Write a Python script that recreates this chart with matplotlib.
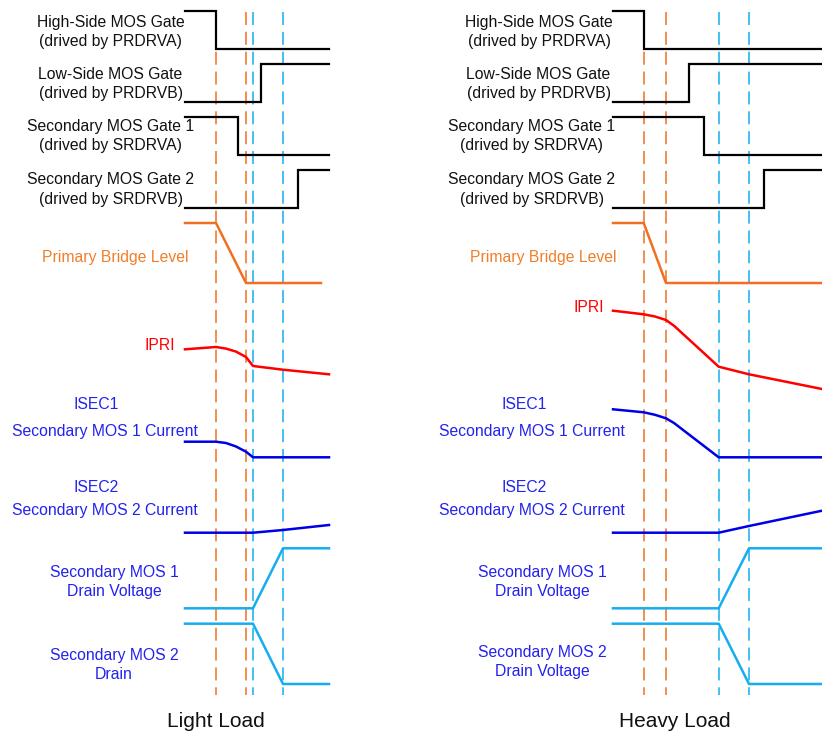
import matplotlib.pyplot as plt

plt.rcParams['font.family'] = ['Liberation Sans', 'DejaVu Sans']

ORANGE = '#f06f20'
ORANGE_TXT = '#f27d28'
RED = '#ff0000'
BLUE = '#0000e6'
BLUE_TXT = '#2222ee'
CYAN = '#14aeee'

# time axis runs left->right across both panels, levels run top->bottom
panels = ['Light Load', 'Heavy Load']
t_start = [185, 613]
t_end = [329, 822]

# switching instants: two dead-time markers (orange) and two secondary markers (blue)
mark_orange = [[216, 246], [643.7, 666]]
mark_blue = [[253, 283], [718.7, 749]]

# gate drive signals
gate_names = ['High-Side MOS Gate\n(drived by PRDRVA)',
              'Low-Side MOS Gate\n(drived by PRDRVB)',
              'Secondary MOS Gate 1\n(drived by SRDRVA)',
              'Secondary MOS Gate 2\n(drived by SRDRVB)']
gate_high = [11, 64, 117, 170]
gate_low = [49, 102, 155, 208]
gate_starts_high = [True, False, True, False]
gate_edge = [[216, 261, 238, 298], [643.7, 688.7, 703.7, 764.3]]

# analog waveforms (time, level)
bridge_t = [[185, 216, 246, 321], [613, 643.7, 666, 822]]
bridge_v = [[223, 223, 283, 283], [223, 223, 283, 283]]

ipri_t = [[185, 216, 226, 236, 246, 253, 283, 329],
          [613, 643.7, 655, 666, 674.3, 718.7, 749, 822]]
ipri_v = [[349.3, 347, 348.6, 351.6, 357, 366, 369.7, 374.3],
          [310.7, 314.3, 316.5, 320, 326, 366.7, 374.3, 389]]

isec1_t = [[185, 216, 226, 236, 246, 253, 329],
           [613, 643.7, 655, 666, 674, 718.7, 822]]
isec1_v = [[441.7, 441.7, 443, 446.5, 451.7, 457.3, 457.3],
           [409.3, 412.3, 414.8, 418.3, 423, 457.3, 457.3]]

isec2_t = [[185, 253, 283, 329], [613, 718.7, 749, 822]]
isec2_v = [[532.7, 532.7, 530, 525], [532.7, 532.7, 526, 510.7]]

vd1_t = [[185, 253, 283, 329], [613, 718.7, 749, 822]]
vd1_v = [[608.3, 608.3, 548.3, 548.3], [608.3, 608.3, 548.3, 548.3]]

vd2_t = [[185, 253, 283, 329], [613, 718.7, 749, 822]]
vd2_v = [[623.7, 623.7, 684, 684], [623.7, 623.7, 684, 684]]

# label anchors per panel
gate_lbl_x = [[110.5, 110.5, 110.5, 110.5], [539, 538.5, 531.5, 531.5]]
gate_lbl_y = [32, 84, 136, 189.5]
bridge_lbl = [(115, 257.7), (543.3, 257.7)]
ipri_lbl = [(160, 345), (588.3, 307.3)]
isec_tag_x = [96, 523.8]
isec_name_x = [104.5, 532.3]
vd_lbl_x = [114, 542.7]
vd2_names = ['Secondary MOS 2\nDrain', 'Secondary MOS 2\nDrain Voltage']
vd2_lbl_y = [665, 662]
title_x = [216, 675]

fig = plt.figure(figsize=(8.22, 7.34), dpi=100)
ax = fig.add_axes([0, 0, 1, 1])
ax.set_xlim(0, 822)
ax.set_ylim(734, 0)
ax.axis('off')

FS = 11.3
LS = 1.4
dash = (8.5, 4.5)
for p in range(2):
    # vertical marker lines
    for t in mark_orange[p]:
        ax.plot([t, t], [12, 695], color=ORANGE, lw=1.1, dashes=dash, zorder=1)
    for t in mark_blue[p]:
        ax.plot([t, t], [12, 695], color=CYAN, lw=1.1, dashes=dash, zorder=1)

    # gate signals
    for g in range(4):
        a, b = (gate_high[g], gate_low[g]) if gate_starts_high[g] else (gate_low[g], gate_high[g])
        te = gate_edge[p][g]
        ax.plot([t_start[p], te, te, t_end[p]], [a, a, b, b], color='black', lw=1.6,
                solid_joinstyle='miter', zorder=3)
        ax.text(gate_lbl_x[p][g], gate_lbl_y[g], gate_names[g], ha='center', va='center',
                fontsize=FS, linespacing=LS, color='#111111')

    ax.plot(bridge_t[p], bridge_v[p], color=ORANGE, lw=1.8, zorder=3)
    ax.text(*bridge_lbl[p], 'Primary Bridge Level', ha='center', va='center',
            fontsize=FS, color=ORANGE_TXT)

    ax.plot(ipri_t[p], ipri_v[p], color=RED, lw=1.8, zorder=3)
    ax.text(*ipri_lbl[p], 'IPRI', ha='center', va='center', fontsize=FS, color=RED)

    ax.plot(isec1_t[p], isec1_v[p], color=BLUE, lw=1.8, zorder=3)
    ax.text(isec_tag_x[p], 404.5, 'ISEC1', ha='center', va='center', fontsize=FS, color=BLUE_TXT)
    ax.text(isec_name_x[p], 431.7, 'Secondary MOS 1 Current', ha='center', va='center',
            fontsize=FS, color=BLUE_TXT)

    ax.plot(isec2_t[p], isec2_v[p], color=BLUE, lw=1.8, zorder=3)
    ax.text(isec_tag_x[p], 487.3, 'ISEC2', ha='center', va='center', fontsize=FS, color=BLUE_TXT)
    ax.text(isec_name_x[p], 511, 'Secondary MOS 2 Current', ha='center', va='center',
            fontsize=FS, color=BLUE_TXT)

    ax.plot(vd1_t[p], vd1_v[p], color=CYAN, lw=1.8, zorder=3)
    ax.text(vd_lbl_x[p], 582, 'Secondary MOS 1\nDrain Voltage', ha='center', va='center',
            fontsize=FS, linespacing=LS, color=BLUE_TXT)
    ax.plot(vd2_t[p], vd2_v[p], color=CYAN, lw=1.8, zorder=3)
    ax.text(vd_lbl_x[p], vd2_lbl_y[p], vd2_names[p], ha='center', va='center',
            fontsize=FS, linespacing=LS, color=BLUE_TXT)

    ax.text(title_x[p], 721.5, panels[p], ha='center', va='center', fontsize=15, color='#111111')

fig.savefig('out.png', dpi=100)
